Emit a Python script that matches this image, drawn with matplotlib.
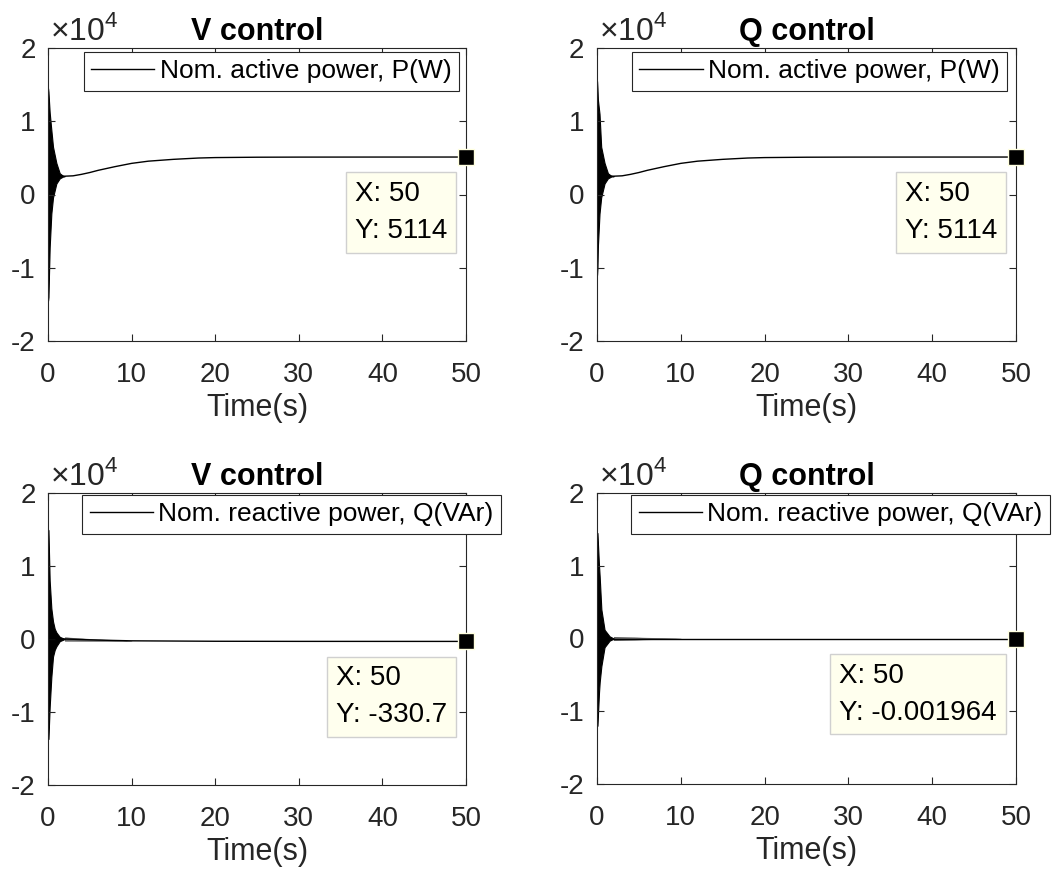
import matplotlib
matplotlib.use("Agg")
import matplotlib.pyplot as plt
from matplotlib.ticker import FuncFormatter

plt.rcParams['font.family'] = ['Liberation Sans', 'DejaVu Sans']
plt.rcParams['mathtext.fontset'] = 'custom'
plt.rcParams['mathtext.rm'] = 'Liberation Sans'

# ---------------- data ----------------
titles = ["V control", "Q control", "V control", "Q control"]
legend_labels = ["Nom. active power, P(W)", "Nom. active power, P(W)",
                 "Nom. reactive power, Q(VAr)", "Nom. reactive power, Q(VAr)"]
x_ticks = [0, 10, 20, 30, 40, 50]
y_ticks = [-20000, -10000, 0, 10000, 20000]

# early oscillation envelopes (time in s, values in W / VAr)
t_env_P_V = [0.0, 0.05, 0.2, 0.4, 0.6, 1.0, 1.4, 1.8, 2.0]
P_V_upper = [14500, 14000, 11200, 8800, 6500, 4300, 2900, 2550, 2500]
P_V_lower = [-14500, -14000, -7200, -2600, -400, 1500, 2200, 2450, 2500]

t_env_P_Q = [0.0, 0.05, 0.1, 0.3, 0.5, 0.9, 1.3, 1.7, 2.0]
P_Q_upper = [15500, 14500, 13000, 11000, 6500, 4300, 2900, 2550, 2500]
P_Q_lower = [-11000, -10000, -7200, -2600, -400, 1500, 2200, 2450, 2500]

t_env_Q_V = [0.0, 0.05, 0.2, 0.4, 0.6, 0.8, 1.0, 1.4, 2.0]
Q_V_upper = [15000, 14900, 8000, 4200, 2400, 1400, 900, 300, 0]
Q_V_lower = [-13700, -13700, -9300, -5200, -2400, -1500, -1000, -300, 0]

t_env_Q_Q = [0.0, 0.05, 0.24, 0.32, 0.52, 0.9, 1.5, 2.0]
Q_Q_upper = [14500, 14500, 10000, 8500, 4000, 1200, 300, 0]
Q_Q_lower = [-12000, -12000, -7400, -6000, -3800, -1200, -300, 0]

# settled trajectories
t_trend_P = [2, 3, 4, 5, 6, 8, 10, 12, 15, 18, 20, 25, 30, 40, 50]
P_V_trend = [2500, 2550, 2750, 3000, 3300, 3800, 4250, 4550, 4800, 4980, 5040, 5090, 5105, 5112, 5114]
P_Q_trend = [2500, 2550, 2750, 3000, 3300, 3800, 4250, 4550, 4800, 4980, 5040, 5090, 5105, 5112, 5114]

t_trend_Q = [2, 4, 6, 8, 10, 20, 30, 50]
Q_V_trend = [0, -80, -150, -200, -250, -310, -325, -330.7]
Q_Q_trend = [0, 0, 0, 0, 0, 0, 0, -0.001964]

# small residual ripple after settling
t_ripple = [2, 4, 6, 8, 10]
Q_V_ripple = [250, 180, 120, 80, 0]
Q_Q_ripple = [250, 180, 120, 80, 0]

tip_x = [50, 50, 50, 50]
tip_y = [5114, 5114, -330.7, -0.001964]
tip_y_text = ["5114", "5114", "-330.7", "-0.001964"]

# ---------------- figure ----------------
W, H = 1053, 875
fig = plt.figure(figsize=(W / 100, H / 100), dpi=100)

def ax_rect(l, t, r, b):
    return [l / W, 1 - b / H, (r - l) / W, (b - t) / H]

rects = [ax_rect(48, 48, 466, 341), ax_rect(597, 48, 1016, 341),
         ax_rect(48, 493, 466, 785), ax_rect(597, 493, 1016, 784)]
legend_anchor = [(0.983, 0.986), (0.979, 0.986), (1.084, 0.993), (1.081, 0.993)]

envs = [(t_env_P_V, P_V_upper, P_V_lower), (t_env_P_Q, P_Q_upper, P_Q_lower),
        (t_env_Q_V, Q_V_upper, Q_V_lower), (t_env_Q_Q, Q_Q_upper, Q_Q_lower)]
trends = [(t_trend_P, P_V_trend), (t_trend_P, P_Q_trend),
          (t_trend_Q, Q_V_trend), (t_trend_Q, Q_Q_trend)]
ripples = [None, None, Q_V_ripple, Q_Q_ripple]

axc = '#262626'
for i in range(4):
    ax = fig.add_axes(rects[i])
    te, up, lo = envs[i]
    ax.fill_between(te, lo, up, color='black', lw=0.8, edgecolor='black')
    tt, yy = trends[i]
    line, = ax.plot([te[0]] + list(tt), [yy[0]] + list(yy),
                    color='black', lw=1.0, label=legend_labels[i])
    if ripples[i] is not None:
        rp = ripples[i]
        base = yy[:len(rp)]
        ax.fill_between(t_ripple, [b - r for b, r in zip(base, rp)],
                        [b + r for b, r in zip(base, rp)], color='black', lw=0.3,
                        alpha=0.6)
    ax.plot([tip_x[i]], [tip_y[i]], marker='s', markersize=12,
            markerfacecolor='black', markeredgecolor='#FFFFE0',
            markeredgewidth=1.0, clip_on=False, zorder=5)
    ax.annotate("X: %d\nY: %s" % (tip_x[i], tip_y_text[i]),
                xy=(tip_x[i], tip_y[i]), xytext=(-19, -24),
                textcoords='offset pixels', ha='right', va='top',
                multialignment='left',
                fontsize=20, color='black', linespacing=1.55,
                bbox=dict(boxstyle='square,pad=0.32', fc='#FFFFEE',
                          ec='#D0D0D0', lw=1.0), zorder=6)

    ax.set_xlim(0, 50)
    ax.set_ylim(-20000, 20000)
    ax.set_xticks(x_ticks)
    ax.set_yticks(y_ticks)
    ax.yaxis.set_major_formatter(FuncFormatter(lambda v, p: "%d" % round(v / 1e4)))
    ax.tick_params(direction='in', top=True, right=True, length=5, width=0.8,
                   labelsize=20, colors=axc, pad=15)
    ax.tick_params(axis='y', pad=9)
    for s in ax.spines.values():
        s.set_color(axc)
        s.set_linewidth(0.8)
    ax.set_xlabel("Time(s)", fontsize=22, color=axc, labelpad=4)
    ax.set_title(titles[i], fontsize=22, fontweight='bold', color='black', pad=6)
    ax.text(0.005, 1.005, r'$\times10^{4}$', transform=ax.transAxes, fontsize=23,
            color=axc, ha='left', va='bottom')
    leg = ax.legend(handles=[line], loc='upper right',
                    bbox_to_anchor=legend_anchor[i], borderaxespad=0,
                    fontsize=19, handlelength=2.4, handletextpad=0.2,
                    borderpad=0.28, fancybox=False, framealpha=1,
                    edgecolor=axc)
    leg.get_frame().set_linewidth(0.8)
    for txt in leg.get_texts():
        txt.set_color('black')

fig.savefig("out.png", dpi=100)
